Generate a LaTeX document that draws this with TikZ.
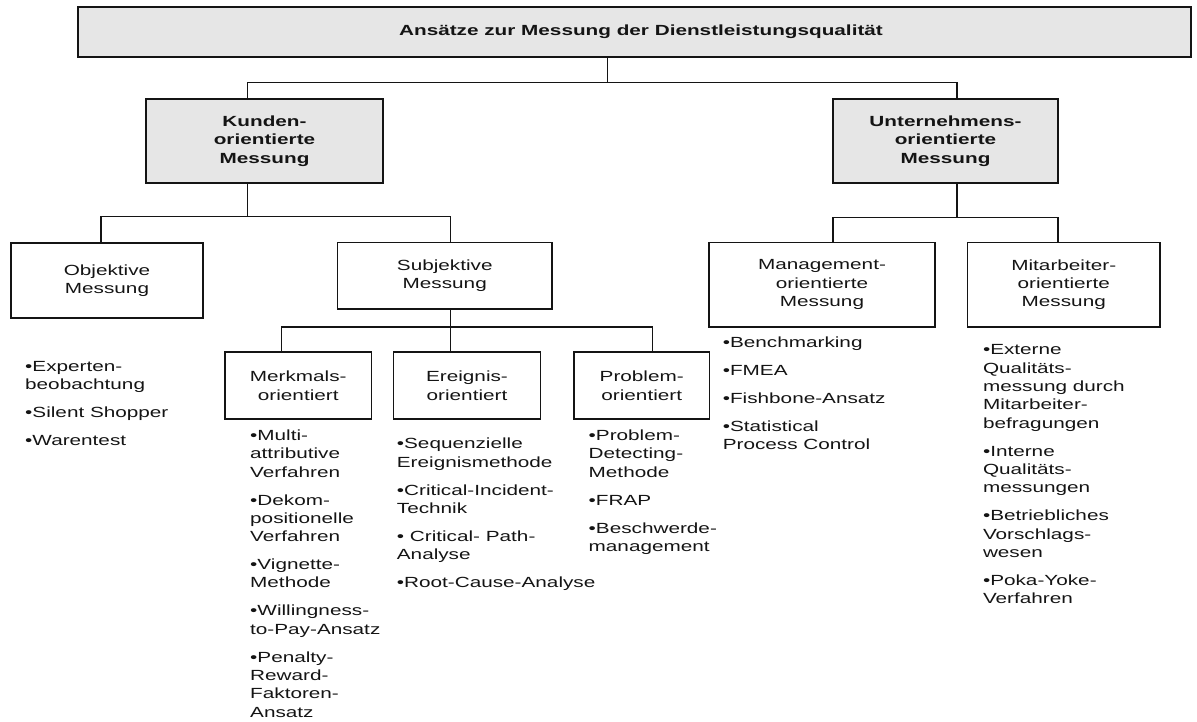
\documentclass[tikz,border=0pt]{standalone}
\usepackage{fontspec}
\newfontfamily\lab{Liberation Sans}[FakeStretch=1.41]
\definecolor{boxgray}{RGB}{230,230,230}
\definecolor{ink}{RGB}{20,20,20}
\begin{document}
\begin{tikzpicture}[x=1pt,y=-1pt,
  every node/.style={font={\lab\fontsize{14.7}{18.3}\selectfont}, text=ink},
  box/.style={draw=ink, line width=1.7pt, inner sep=0pt, align=center, anchor=center},
  graybox/.style={box, fill=boxgray, font={\lab\fontsize{14.7}{18.3}\selectfont\bfseries}},
  listtext/.style={anchor=north west, inner sep=0pt, align=left},
  conn/.style={draw=ink, line width=1.6pt}
]
\useasboundingbox (0,0) rectangle (1197,722);

% boxes
\node[graybox, minimum width=1113pt, minimum height=50pt] (top) at (634.5,32)
  {\hspace*{13pt}Ansätze zur Messung der Dienstleistungsqualität};
\node[graybox, minimum width=237pt, minimum height=84pt] (kunden) at (264.5,141)
  {Kunden-\\orientierte\\Messung};
\node[graybox, minimum width=225pt, minimum height=84pt] (untern) at (945.5,141)
  {Unternehmens-\\orientierte\\Messung};
\node[box, minimum width=192pt, minimum height=75pt] (objektiv) at (107,280.5)
  {Objektive\\Messung};
\node[box, minimum width=214.5pt, minimum height=66.5pt] (subjektiv) at (444.75,275.75)
  {Subjektive\\Messung};
\node[box, minimum width=146.5pt, minimum height=67.3pt] (merkmal) at (298.25,385.65)
  {Merkmals-\\orientiert};
\node[box, minimum width=147pt, minimum height=67.3pt] (ereignis) at (467,385.65)
  {Ereignis-\\orientiert};
\node[box, minimum width=135.5pt, minimum height=67.3pt] (problem) at (641.75,385.65)
  {Problem-\\orientiert};
\node[box, minimum width=226pt, minimum height=84.2pt] (management) at (822,284.6)
  {Management-\\orientierte\\Messung};
\node[box, minimum width=192.5pt, minimum height=84.2pt] (mitarbeiter) at (1063.75,284.6)
  {Mitarbeiter-\\orientierte\\Messung};

% connectors
\coordinate (j1) at (607.6,82.5);
\coordinate (xk) at (247.5,82.5);
\coordinate (xu) at (957,82.5);
\draw[conn] (j1 |- top.south) -- (j1);
\draw[conn] (xk |- kunden.north) -- (xk) -- (xu) -- (xu |- untern.north);

\coordinate (j2) at (247.5,216.5);
\coordinate (xo) at (101,216.5);
\coordinate (xs) at (450.4,216.5);
\draw[conn] (j2 |- kunden.south) -- (j2);
\draw[conn] (xo |- objektiv.north) -- (xo) -- (xs) -- (xs |- subjektiv.north);

\coordinate (j3) at (450.4,326.7);
\coordinate (xm) at (281.3,326.7);
\coordinate (xp) at (652.5,326.7);
\draw[conn] (j3 |- subjektiv.south) -- (j3 |- ereignis.north);
\draw[conn] (xm |- merkmal.north) -- (xm) -- (xp) -- (xp |- problem.north);

\coordinate (j4) at (957,217.7);
\coordinate (xg) at (833,217.7);
\coordinate (xa) at (1058,217.7);
\draw[conn] (j4 |- untern.south) -- (j4);
\draw[conn] (xg |- management.north) -- (xg) -- (xa) -- (xa |- mitarbeiter.north);

% lists
\node[listtext] (objlist) at (25,361.3)
  {•Experten-\\beobachtung\\[9.7pt]•Silent Shopper\\[9.7pt]•Warentest};
\node[listtext] (merklist) at (250,429.6)
  {•Multi-\\attributive\\Verfahren\\[9.7pt]•Dekom-\\positionelle\\Verfahren\\[9.7pt]%
   •Vignette-\\Methode\\[9.7pt]•Willingness-\\to-Pay-Ansatz\\[9.7pt]%
   •Penalty-\\Reward-\\Faktoren-\\Ansatz};
\node[listtext] (ereiglist) at (396.7,437.9)
  {•Sequenzielle\\Ereignismethode\\[9.7pt]•Critical-Incident-\\Technik\\[9.7pt]%
   • Critical- Path-\\Analyse\\[9.7pt]•Root-Cause-Analyse};
\node[listtext] (problist) at (588.5,429.6)
  {•Problem-\\Detecting-\\Methode\\[9.7pt]•FRAP\\[9.7pt]•Beschwerde-\\management};
\node[listtext] (manlist) at (722.6,336.3)
  {•Benchmarking\\[9.7pt]•FMEA\\[9.7pt]•Fishbone-Ansatz\\[9.7pt]•Statistical\\Process Control};
\node[listtext] (mitlist) at (982.8,344.6)
  {•Externe\\Qualitäts-\\messung durch\\Mitarbeiter-\\befragungen\\[9.7pt]%
   •Interne\\Qualitäts-\\messungen\\[9.7pt]•Betriebliches\\Vorschlags-\\wesen\\[9.7pt]%
   •Poka-Yoke-\\Verfahren};
\end{tikzpicture}
\end{document}
